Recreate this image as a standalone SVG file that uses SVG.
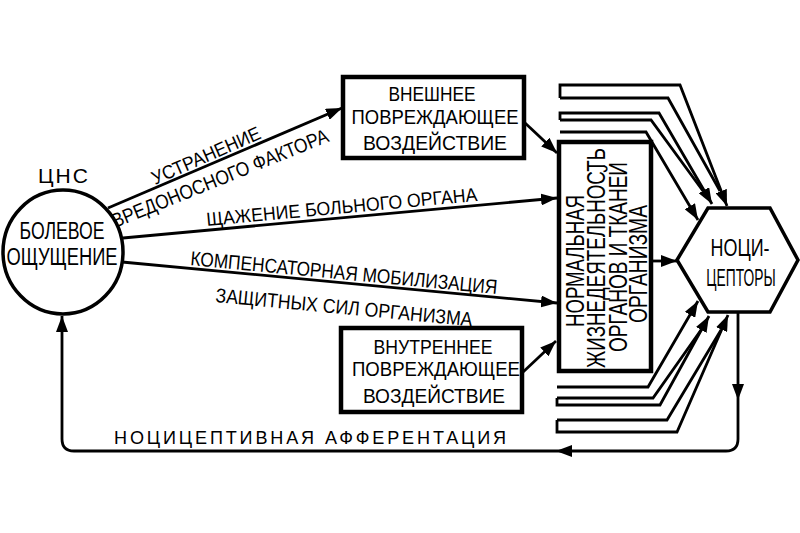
<svg xmlns="http://www.w3.org/2000/svg" width="800" height="533" viewBox="0 0 800 533">
<defs>
<marker id="ah" viewBox="0 0 16 12" refX="16" refY="6" markerWidth="16" markerHeight="12" markerUnits="userSpaceOnUse" orient="auto">
<path d="M0,0 L16,6 L0,12 Z" fill="#000"/>
</marker>
</defs>
<style>
text{font-family:"Liberation Sans",Arial,sans-serif;fill:#000;}
.box{fill:#fff;stroke:#000;stroke-width:4.5;}
.ln{fill:none;stroke:#000;stroke-width:2.8;stroke-linejoin:miter;}
.arr{marker-end:url(#ah);}
.c{text-anchor:middle;}
</style>
<rect width="800" height="533" fill="#fff"/>

<g id="connectors">
<path class="ln arr" d="M108,208 L342,108"/>
<path class="ln arr" d="M123,238 L557,198"/>
<path class="ln arr" d="M122,262 L557,303"/>
<path class="ln arr" d="M524,122 L557,153"/>
<path class="ln arr" d="M522,373 L556,341"/>
<path class="ln arr" d="M652,261 L677,261"/>
<!-- top bundle -->
<path class="ln arr" d="M560,98 V85 H680 L727,206"/>
<path class="ln" d="M560,98 H668 L720,191"/>
<path class="ln arr" d="M560,120 V113 H659 L712,204"/>
<path class="ln" d="M560,120 H651 L703,191"/>
<path class="ln arr" d="M560,132 H646 L698,220"/>
<!-- bottom bundle -->
<path class="ln arr" d="M557,387 H648 L698,301"/>
<path class="ln arr" d="M557,398 V405 H660 L709,316"/>
<path class="ln" d="M557,398 H653 L701,330"/>
<path class="ln arr" d="M557,420 V432 H677 L728,315"/>
<path class="ln" d="M557,420 H667 L721,330"/>
<!-- feedback -->
<path class="ln arr" d="M738,312 V439 Q738,451 726,451 H74 Q62,451 62,439 V316"/>
<polygon points="732,384 744,384 738,400" fill="#000"/>
<polygon points="572,445 572,457 556,451" fill="#000"/>
</g>

<g id="labels">
<text transform="translate(155,185) rotate(-23.7)" font-size="19" textLength="117" lengthAdjust="spacingAndGlyphs">УСТРАНЕНИЕ</text>
<text transform="translate(115,228) rotate(-22)" font-size="20" textLength="232" lengthAdjust="spacingAndGlyphs">ВРЕДОНОСНОГО ФАКТОРА</text>
<text transform="translate(207,226) rotate(-5.3)" font-size="19" textLength="272" lengthAdjust="spacingAndGlyphs">ЩАЖЕНИЕ БОЛЬНОГО ОРГАНА</text>
<text transform="translate(190,265) rotate(5.4)" font-size="20" textLength="308" lengthAdjust="spacingAndGlyphs">КОМПЕНСАТОРНАЯ МОБИЛИЗАЦИЯ</text>
<text transform="translate(215,302) rotate(5.4)" font-size="20" textLength="258" lengthAdjust="spacingAndGlyphs">ЗАЩИТНЫХ СИЛ ОРГАНИЗМА</text>
<text x="114" y="444" font-size="19" textLength="395" lengthAdjust="spacingAndGlyphs" letter-spacing="3">НОЦИЦЕПТИВНАЯ АФФЕРЕНТАЦИЯ</text>
</g>

<g id="cns">
<ellipse cx="63" cy="252" rx="60" ry="62" fill="#fff" stroke="#000" stroke-width="3.5"/>
<text class="c" x="63" y="183" font-size="21" textLength="50" lengthAdjust="spacing">ЦНС</text>
<text class="c" x="62" y="239" font-size="23" textLength="85" lengthAdjust="spacingAndGlyphs">БОЛЕВОЕ</text>
<text class="c" x="62" y="265" font-size="23" textLength="111" lengthAdjust="spacingAndGlyphs">ОЩУЩЕНИЕ</text>
</g>

<g id="external">
<rect class="box" x="343" y="77" width="181" height="81"/>
<text class="c" x="432" y="101" font-size="21" textLength="87" lengthAdjust="spacingAndGlyphs">ВНЕШНЕЕ</text>
<text class="c" x="435" y="124" font-size="21" textLength="167" lengthAdjust="spacingAndGlyphs">ПОВРЕЖДАЮЩЕЕ</text>
<text class="c" x="435" y="150" font-size="21" textLength="144" lengthAdjust="spacingAndGlyphs">ВОЗДЕЙСТВИЕ</text>
</g>

<g id="internal">
<rect class="box" x="341" y="328" width="181" height="84"/>
<text class="c" x="433" y="354" font-size="21" textLength="119" lengthAdjust="spacingAndGlyphs">ВНУТРЕННЕЕ</text>
<text class="c" x="436" y="376" font-size="21" textLength="168" lengthAdjust="spacingAndGlyphs">ПОВРЕЖДАЮЩЕЕ</text>
<text class="c" x="434" y="403" font-size="21" textLength="142" lengthAdjust="spacingAndGlyphs">ВОЗДЕЙСТВИЕ</text>
</g>

<g id="organs">
<rect class="box" x="559" y="142" width="92" height="229"/>
<text class="c" transform="translate(584,261) rotate(-90)" font-size="25" textLength="132" lengthAdjust="spacingAndGlyphs">НОРМАЛЬНАЯ</text>
<text class="c" transform="translate(605,258) rotate(-90)" font-size="25" textLength="220" lengthAdjust="spacingAndGlyphs">ЖИЗНЕДЕЯТЕЛЬНОСТЬ</text>
<text class="c" transform="translate(627,257) rotate(-90)" font-size="25" textLength="190" lengthAdjust="spacingAndGlyphs">ОРГАНОВ И ТКАНЕЙ</text>
<text class="c" transform="translate(647,264) rotate(-90)" font-size="25" textLength="118" lengthAdjust="spacingAndGlyphs">ОРГАНИЗМА</text>
</g>

<g id="nociceptors">
<polygon points="677,260 708,208 770,208 798,260 770,312 708,312" fill="#fff" stroke="#000" stroke-width="3.5"/>
<text class="c" transform="translate(740,256) scale(0.78,1)" font-size="23">НОЦИ-</text>
<text class="c" transform="translate(741,286) scale(0.6,1)" font-size="23">ЦЕПТОРЫ</text>
</g>
</svg>
